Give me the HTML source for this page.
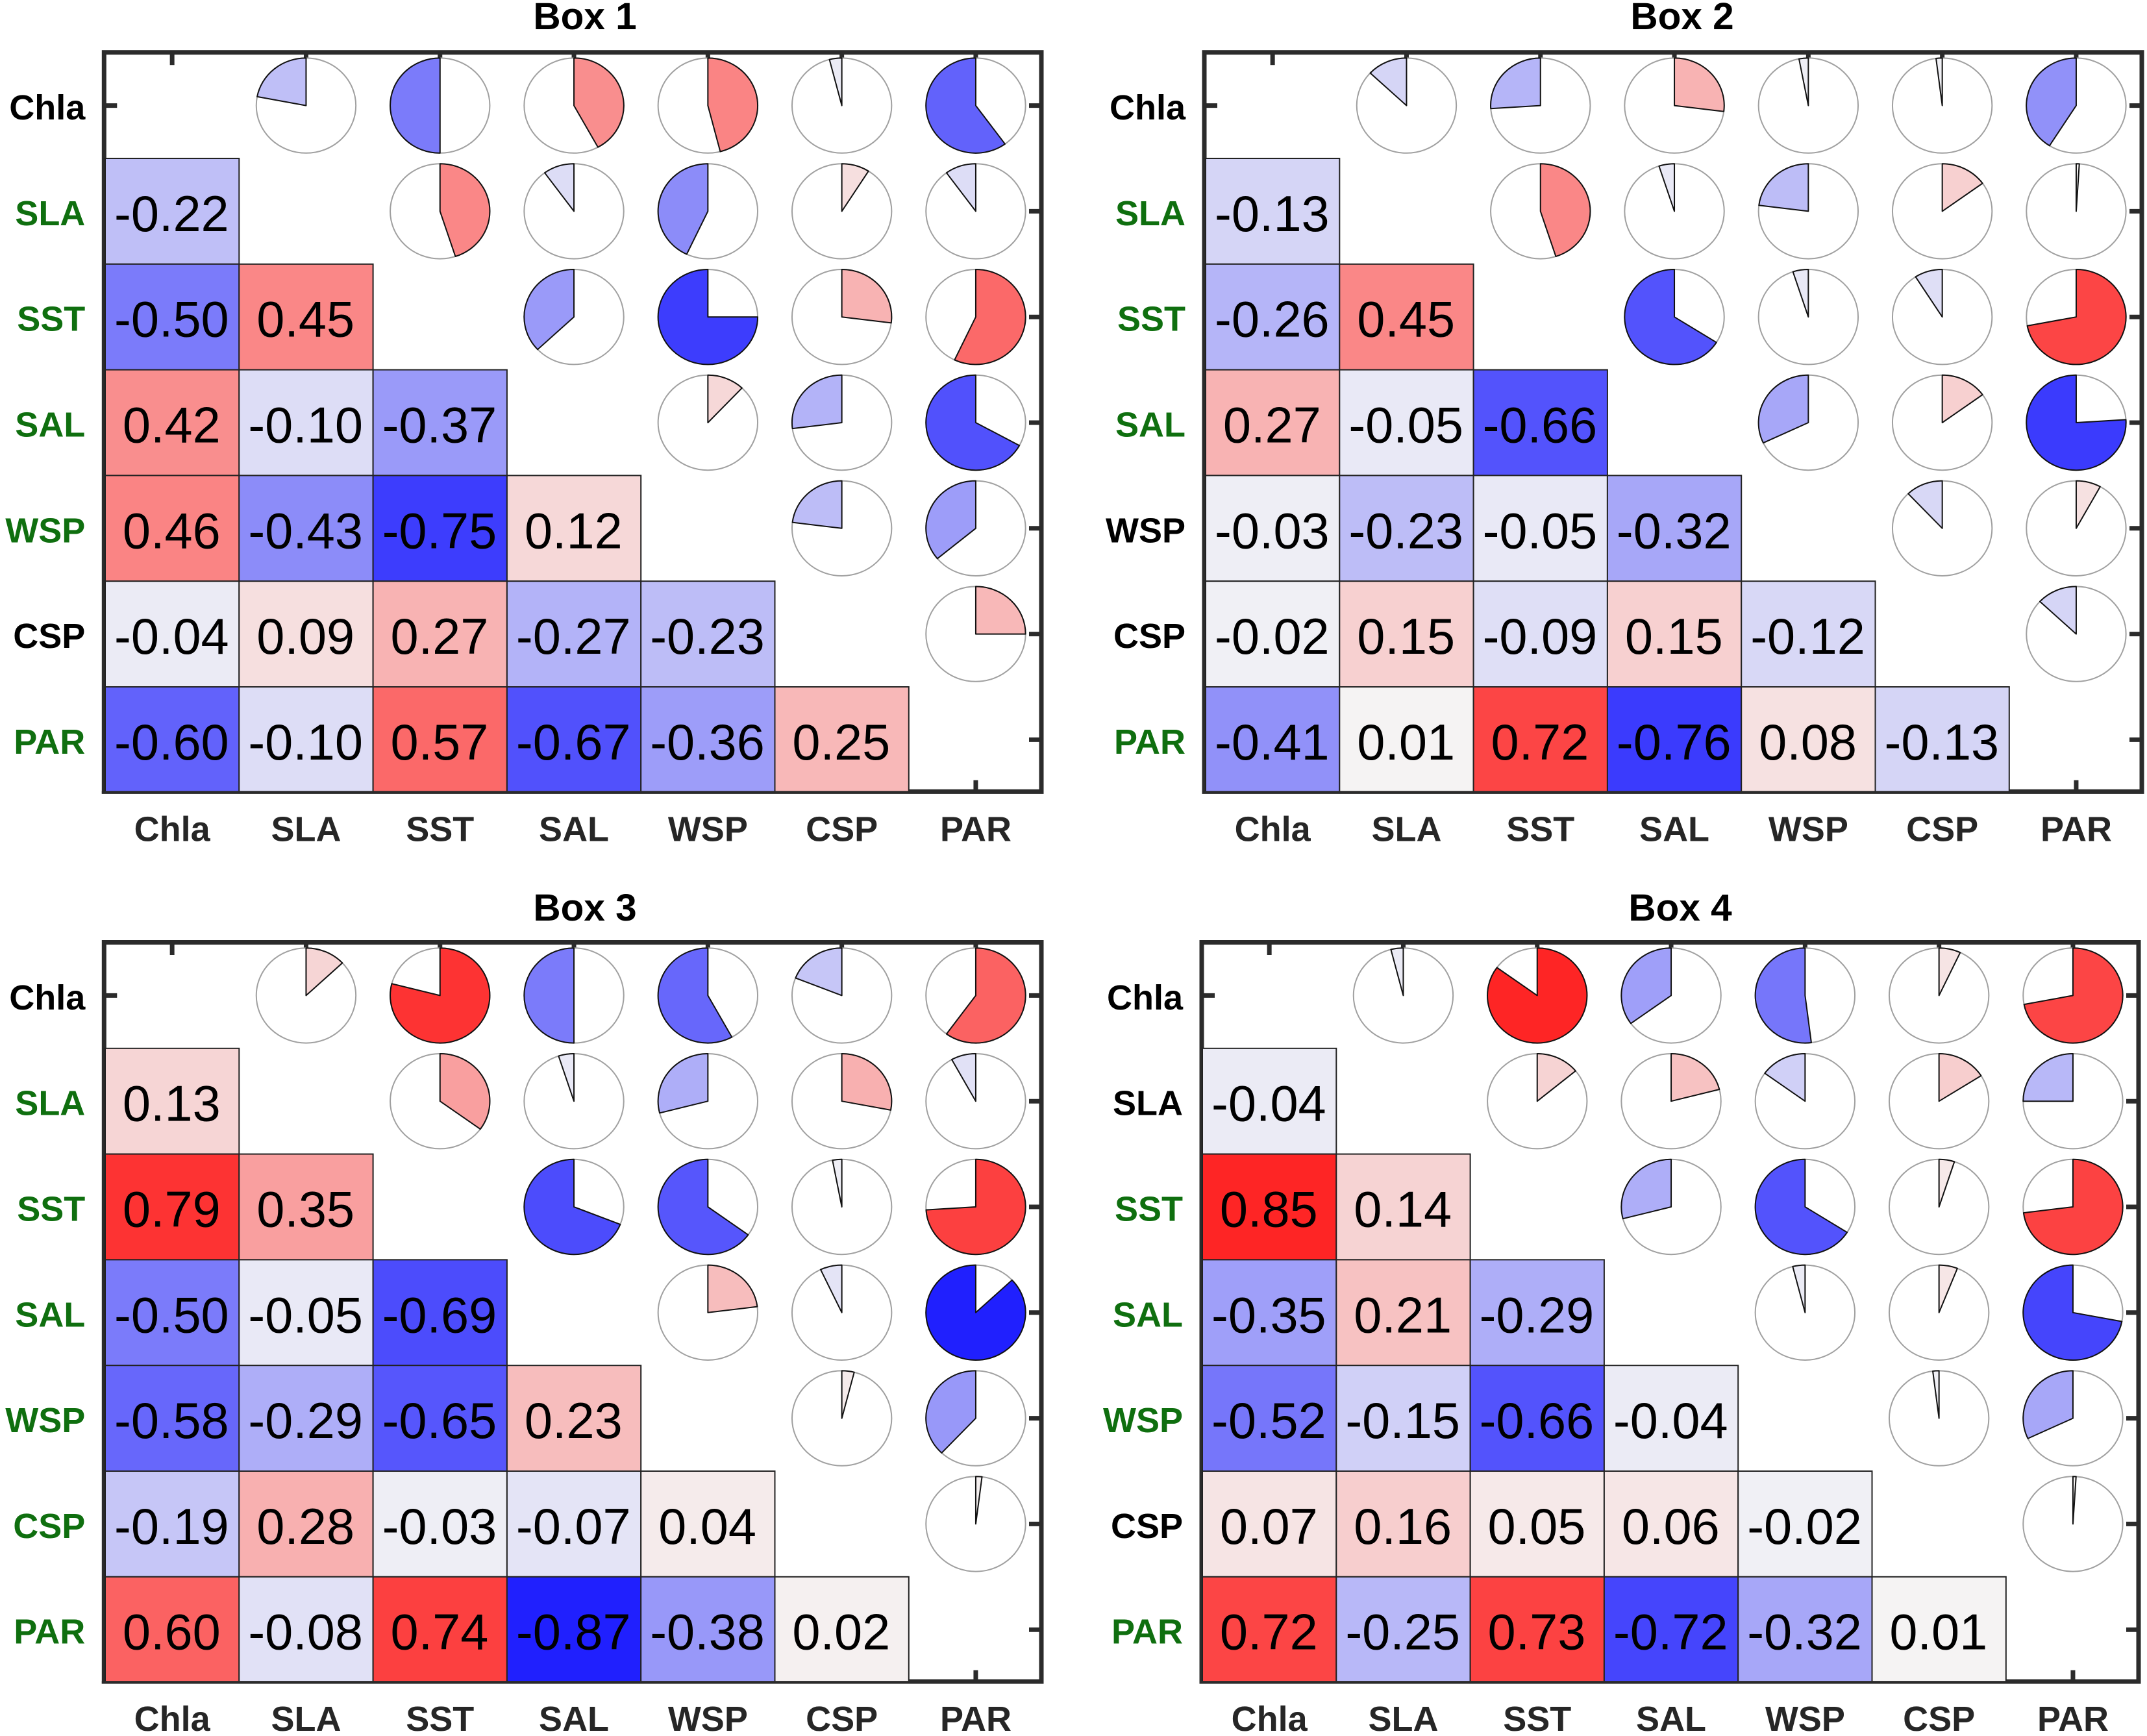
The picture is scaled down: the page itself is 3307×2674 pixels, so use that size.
<!DOCTYPE html>
<html lang="en">
<head>
<meta charset="utf-8">
<title>Correlation matrices for Box 1 to Box 4</title>
<style>
  html, body { margin: 0; padding: 0; background: #ffffff; }
  svg { display: block; }
  text { font-family: "Liberation Sans", Arial, sans-serif; }
</style>
</head>
<body>
<svg id="chart" xmlns="http://www.w3.org/2000/svg" width="3307" height="2674" viewBox="0 0 3307 2674"></svg>
<script>
const variables = ["Chla", "SLA", "SST", "SAL", "WSP", "CSP", "PAR"];
const boxTitles = ["Box 1", "Box 2", "Box 3", "Box 4"];

const box1Values = [
  [-0.22],
  [-0.50, 0.45],
  [0.42, -0.10, -0.37],
  [0.46, -0.43, -0.75, 0.12],
  [-0.04, 0.09, 0.27, -0.27, -0.23],
  [-0.60, -0.10, 0.57, -0.67, -0.36, 0.25]
];
const box2Values = [
  [-0.13],
  [-0.26, 0.45],
  [0.27, -0.05, -0.66],
  [-0.03, -0.23, -0.05, -0.32],
  [-0.02, 0.15, -0.09, 0.15, -0.12],
  [-0.41, 0.01, 0.72, -0.76, 0.08, -0.13]
];
const box3Values = [
  [0.13],
  [0.79, 0.35],
  [-0.50, -0.05, -0.69],
  [-0.58, -0.29, -0.65, 0.23],
  [-0.19, 0.28, -0.03, -0.07, 0.04],
  [0.60, -0.08, 0.74, -0.87, -0.38, 0.02]
];
const box4Values = [
  [-0.04],
  [0.85, 0.14],
  [-0.35, 0.21, -0.29],
  [-0.52, -0.15, -0.66, -0.04],
  [0.07, 0.16, 0.05, 0.06, -0.02],
  [0.72, -0.25, 0.73, -0.72, -0.32, 0.01]
];

const box1Highlighted = [false, true, true, true, true, false, true];
const box2Highlighted = [false, true, true, true, false, false, true];
const box3Highlighted = [false, true, true, true, true, true, true];
const box4Highlighted = [false, false, true, true, true, false, true];

const svg = document.getElementById("chart");
const SVG_NS = "http://www.w3.org/2000/svg";
const COL_W = 206.3;
const ROW_H = 162.8;
const PIE_RX = 76.7;
const PIE_RY = 73.2;
const AXIS_COLOR = "#2b2b2b";

function make(tag, parent, attrs) {
  const el = document.createElementNS(SVG_NS, tag);
  for (const key in attrs) {
    el.setAttribute(key, attrs[key]);
  }
  parent.appendChild(el);
  return el;
}

function colorFor(r) {
  const neutral = 245;
  const t = Math.abs(r);
  const low = Math.round(neutral * (1 - t));
  const high = Math.round(neutral + (255 - neutral) * t);
  return r >= 0 ? `rgb(${high},${low},${low})` : `rgb(${low},${low},${high})`;
}

function wedgePath(cx, cy, r) {
  const theta = Math.abs(r) * 2 * Math.PI;
  const sign = r >= 0 ? 1 : -1;
  const ex = cx + sign * PIE_RX * Math.sin(theta);
  const ey = cy - PIE_RY * Math.cos(theta);
  const large = theta > Math.PI ? 1 : 0;
  const sweep = r >= 0 ? 1 : 0;
  return `M${cx} ${cy}L${cx} ${cy - PIE_RY}A${PIE_RX} ${PIE_RY} 0 ${large} ${sweep} ${ex} ${ey}Z`;
}

function drawPanel(title, values, highlighted, frameLeft, frameRight, frameTop, gridLeft, titleX, titleBaseline, key) {
  const xScale = function (col) { return gridLeft + col * COL_W; };
  const yScale = function (row) { return frameTop + row * ROW_H; };
  const frameBottom = yScale(variables.length);

  const g = make("g", svg, {});
  
  

  const titleEl = make("text", g, {
    x: titleX, y: titleBaseline, "text-anchor": "middle",
    "font-size": 58.5, "font-weight": "bold", fill: "#000000"
  });
  titleEl.textContent = title;
  
  

  const frame = make("rect", g, {
    x: frameLeft, y: frameTop - 0.5, width: frameRight - frameLeft, height: frameBottom - frameTop - 1,
    fill: "#ffffff", stroke: AXIS_COLOR, "stroke-width": 7
  });
  
  

  variables.forEach(function (name, i) {
    const cx = xScale(i + 0.5);
    const cy = yScale(i + 0.5);

    const topTick = make("line", g, { x1: cx, x2: cx, y1: frameTop, y2: frameTop + 19, stroke: AXIS_COLOR, "stroke-width": 7 });
    
    

    const bottomTick = make("line", g, { x1: cx, x2: cx, y1: frameBottom, y2: frameBottom - 19, stroke: AXIS_COLOR, "stroke-width": 7 });
    
    

    const leftTick = make("line", g, { x1: frameLeft, x2: frameLeft + 20, y1: cy, y2: cy, stroke: AXIS_COLOR, "stroke-width": 7 });
    
    

    const rightTick = make("line", g, { x1: frameRight, x2: frameRight - 19, y1: cy, y2: cy, stroke: AXIS_COLOR, "stroke-width": 7 });
    
    

    const xLabel = make("text", g, {
      x: cx, y: frameBottom + 74.5, "text-anchor": "middle",
      "font-size": 54, "font-weight": "bold", fill: "#262626"
    });
    xLabel.textContent = name;
    
    

    const yLabel = make("text", g, {
      x: frameLeft - 29, y: cy + 21.5, "text-anchor": "end",
      "font-size": 54, "font-weight": "bold",
      fill: highlighted[i] ? "#0f6f0f" : "#000000"
    });
    yLabel.textContent = name;
    
    
  });

  values.forEach(function (rowValues, r) {
    const row = r + 1;
    rowValues.forEach(function (value, col) {
      const pairName = variables[row].toLowerCase() + "-" + variables[col].toLowerCase();

      const cell = make("rect", g, {
        x: xScale(col), y: yScale(row), width: COL_W, height: ROW_H,
        fill: colorFor(value), stroke: "#222222", "stroke-width": 2
      });
      
      

      const cellText = make("text", g, {
        x: xScale(col + 0.5) - 0.8, y: yScale(row + 0.5) + 30.5, "text-anchor": "middle",
        "font-size": 77.5, fill: "#000000"
      });
      cellText.textContent = value.toFixed(2);
      
      

      const px = xScale(row + 0.5);
      const py = yScale(col + 0.5);

      const circle = make("ellipse", g, {
        cx: px, cy: py, rx: PIE_RX, ry: PIE_RY,
        fill: "#ffffff", stroke: "#a0a0a0", "stroke-width": 2
      });
      
      

      const wedge = make("path", g, {
        d: wedgePath(px, py, value),
        fill: colorFor(value), stroke: "#111111", "stroke-width": 2, "stroke-linejoin": "round"
      });
      
      
    });
  });

  const bottomEdge = make("line", g, {
    x1: frameLeft - 3.5, x2: frameRight + 3.5, y1: frameBottom - 0.3, y2: frameBottom - 0.3,
    stroke: AXIS_COLOR, "stroke-width": 4.4
  });
  
  
}

drawPanel(boxTitles[0], box1Values, box1Highlighted, 160.3, 1604, 81.2, 162, 901, 45, "box-1");
drawPanel(boxTitles[1], box2Values, box2Highlighted, 1855, 3299, 81.2, 1857, 2591, 45, "box-2");
drawPanel(boxTitles[2], box3Values, box3Highlighted, 160.3, 1604, 1452, 162, 901, 1418, "box-3");
drawPanel(boxTitles[3], box4Values, box4Highlighted, 1851, 3294, 1452, 1852, 2588, 1418, "box-4");
</script>
</body>
</html>
